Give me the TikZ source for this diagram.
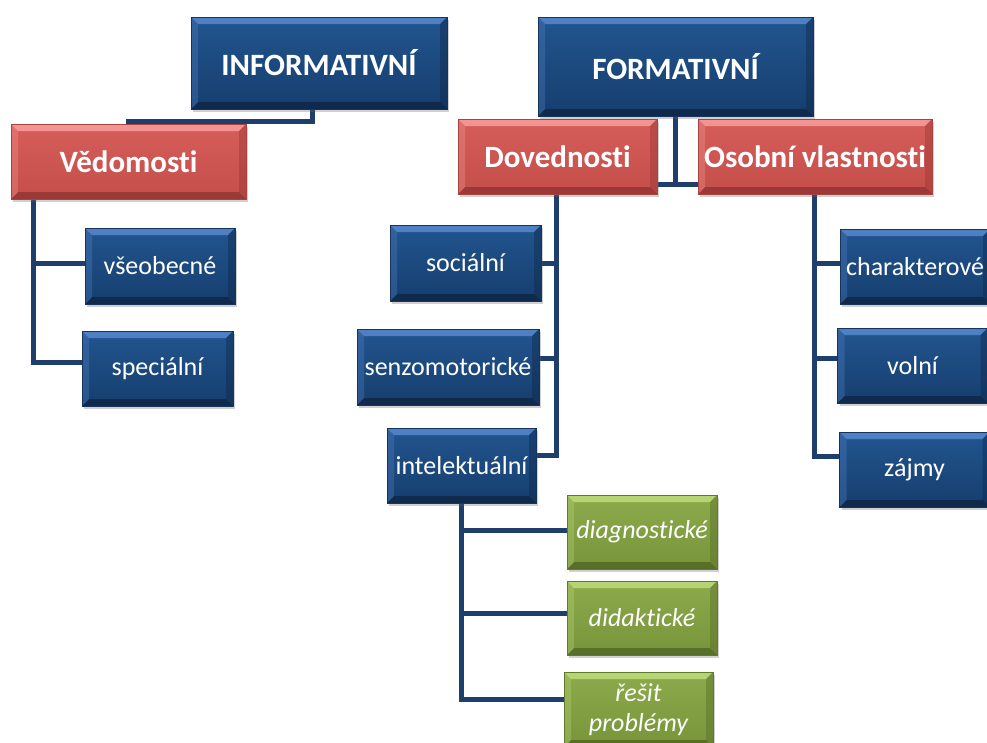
\documentclass[tikz,border=0pt]{standalone}
\usepackage{fontspec}
\setmainfont{Carlito}[Ligatures=NoCommon]
\usetikzlibrary{shadows,calc}
\pgfdeclarelayer{background}
\pgfsetlayers{background,main}
\definecolor{bluetop}{HTML}{22558F}
\definecolor{bluebot}{HTML}{163E6E}
\definecolor{bluehi}{HTML}{4F80C4}
\definecolor{bluelo}{HTML}{0F2A4C}
\definecolor{blueedge}{HTML}{15355E}
\definecolor{redtop}{HTML}{D65E5A}
\definecolor{redbot}{HTML}{C44E4A}
\definecolor{redhi}{HTML}{F39490}
\definecolor{redlo}{HTML}{9A3936}
\definecolor{rededge}{HTML}{A94340}
\definecolor{greentop}{HTML}{8DAB4C}
\definecolor{greenbot}{HTML}{77943A}
\definecolor{greenhi}{HTML}{B6D474}
\definecolor{greenlo}{HTML}{586F28}
\definecolor{greenedge}{HTML}{5F7A2C}
\definecolor{conncol}{HTML}{1E3F6B}
\tikzset{
  bevelpic/.style 2 args={path picture={
    \fill[#1] (path picture bounding box.north west) -- (path picture bounding box.north east)
      -- ([xshift=-7pt,yshift=-7pt]path picture bounding box.north east)
      -- ([xshift=7pt,yshift=-7pt]path picture bounding box.north west) -- cycle;
    \fill[#2] (path picture bounding box.south west) -- (path picture bounding box.south east)
      -- ([xshift=-7pt,yshift=7pt]path picture bounding box.south east)
      -- ([xshift=7pt,yshift=7pt]path picture bounding box.south west) -- cycle;
    \fill[#1,opacity=0.35] (path picture bounding box.north west) -- ([xshift=7pt,yshift=-7pt]path picture bounding box.north west)
      -- ([xshift=7pt,yshift=7pt]path picture bounding box.south west) -- (path picture bounding box.south west) -- cycle;
    \fill[#2,opacity=0.45] (path picture bounding box.north east) -- ([xshift=-7pt,yshift=-7pt]path picture bounding box.north east)
      -- ([xshift=-7pt,yshift=7pt]path picture bounding box.south east) -- (path picture bounding box.south east) -- cycle;
  }},
  basebox/.style={rectangle, inner sep=0pt, text=white, align=center,
    drop shadow={opacity=0.3, shadow xshift=2pt, shadow yshift=-3pt, fill=black!60}},
  bluebox/.style={basebox, draw=blueedge, line width=0.6pt, top color=bluetop, bottom color=bluebot,
    bevelpic={bluehi}{bluelo}, font=\fontsize{26}{30}\selectfont},
  titlebox/.style={bluebox, font=\fontsize{31}{36}\selectfont\bfseries},
  redbox/.style={basebox, draw=rededge, line width=0.6pt, top color=redtop, bottom color=redbot,
    bevelpic={redhi}{redlo}, font=\fontsize{31}{36}\selectfont\bfseries},
  greenbox/.style={basebox, draw=greenedge, line width=0.6pt, top color=greentop, bottom color=greenbot,
    bevelpic={greenhi}{greenlo}, font=\fontsize{26}{30}\selectfont\itshape},
  conn/.style={draw=conncol, line width=5pt},
}
\begin{document}
\begin{tikzpicture}[x=1pt,y=-1pt]
\useasboundingbox (0,0) rectangle (987,742);
\clip (0,0) rectangle (987,742);
% top level
\node[titlebox, minimum width=256pt, minimum height=92pt] (info) at (319,63) {INFORMATIVNÍ};
\node[titlebox, minimum width=275pt, minimum height=99pt] (form) at (675.5,66.5) {FORMATIVNÍ};
% second level
\node[redbox, minimum width=235pt, minimum height=75pt] (ved) at (128.5,161.5) {Vědomosti};
\node[redbox, minimum width=199pt, minimum height=75pt] (dov) at (557.5,156.5) {Dovednosti};
\node[redbox, minimum width=234pt, minimum height=75pt] (oso) at (815,156.5) {Osobní vlastnosti};
% third level
\node[bluebox, minimum width=150pt, minimum height=76pt] (vseob) at (160,266) {všeobecné};
\node[bluebox, minimum width=151pt, minimum height=75pt] (spec) at (157.5,368.5) {speciální};
\node[bluebox, minimum width=151pt, minimum height=76pt] (soc) at (465.5,263) {sociální};
\node[bluebox, minimum width=182pt, minimum height=76pt] (senzo) at (448,367) {senzomotorické};
\node[bluebox, minimum width=149pt, minimum height=75pt] (intel) at (461.5,465.5) {intelektuální};
\node[bluebox, minimum width=150pt, minimum height=75pt] (char) at (915,266.5) {charakterové};
\node[bluebox, minimum width=150pt, minimum height=75pt] (voln) at (912.5,365.5) {volní};
\node[bluebox, minimum width=150pt, minimum height=75pt] (zajmy) at (914.5,469.5) {zájmy};
% fourth level
\node[greenbox, minimum width=150pt, minimum height=74pt] (diag) at (642,532) {diagnostické};
\node[greenbox, minimum width=150pt, minimum height=74pt] (didak) at (642,618) {didaktické};
\node[greenbox, minimum width=149pt, minimum height=75pt] (resit) at (638.5,709.5) {řešit\\problémy};
% connectors
\begin{pgfonlayer}{background}
\fill[white] (0,0) rectangle (987,742);
\draw[conn] ([xshift=-7pt]info.south) |- ([xshift=-2.5pt,yshift=2pt]ved.north);
\draw[conn] (form.south) -- ++(0,68) coordinate (fj);
\draw[conn] (dov.east |- fj) -- (oso.west |- fj);
\coordinate (vt) at ([xshift=-95.5pt]ved.south);
\draw[conn] (vt) |- ([yshift=6pt]spec.west);
\draw[conn] (vt |- vseob.west) ++(0,-3) -- ([yshift=3pt]vseob.west);
\draw[conn] ([xshift=-1.5pt]dov.south) |- ([yshift=10pt]intel.east);
\draw[conn] ([xshift=-1.5pt]dov.south |- soc.east) -- (soc.east);
\draw[conn] ([xshift=-1.5pt]dov.south |- senzo.east) ++(0,-9) -- ([yshift=9pt]senzo.east);
\draw[conn] ([xshift=-1pt]oso.south) |- ([yshift=13pt]zajmy.west);
\draw[conn] ([xshift=-1pt]oso.south |- char.west) ++(0,-3) -- ([yshift=3pt]char.west);
\draw[conn] ([xshift=-1pt]oso.south |- voln.west) ++(0,-7) -- ([yshift=7pt]voln.west);
\draw[conn] (intel.south) |- ([yshift=10pt]resit.west);
\draw[conn] (intel.south |- diag.west) ++(0,-2) -- ([yshift=2pt]diag.west);
\draw[conn] (intel.south |- didak.west) ++(0,-5) -- ([yshift=5pt]didak.west);
\end{pgfonlayer}
\end{tikzpicture}
\end{document}
